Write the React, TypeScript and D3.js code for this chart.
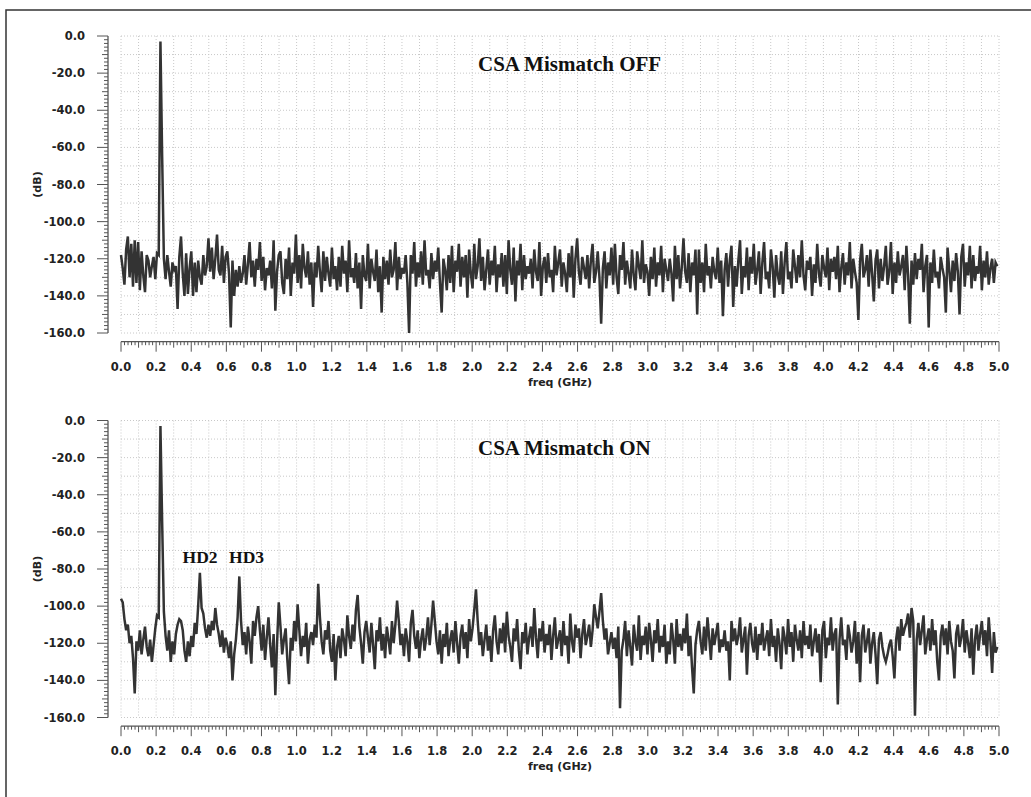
import React from "react";
import * as d3 from "d3";

// FFT bin spacing (GHz): 512 bins over 0 – 5 GHz
const FREQ_STEP_GHZ = 5 / 512;

// Spectrum with CSA mismatch OFF (dB), one value per FFT bin
const offSpectrum: number[] = [
  -118, -125, -134, -115, -108, -130, -112, -135, -110, -133, -111, -137, -116, -129, -138, -118,
  -121, -130, -124, -119, -131, -117, -118, -3, -65, -120, -131, -118, -127, -135, -122, -126,
  -124, -147, -119, -108, -128, -140, -117, -139, -125, -116, -140, -122, -138, -121, -130, -134,
  -118, -129, -124, -109, -127, -114, -131, -120, -107, -126, -129, -113, -133, -119, -116, -128,
  -157, -121, -140, -126, -135, -124, -133, -128, -118, -134, -123, -111, -130, -121, -135, -120,
  -126, -111, -132, -119, -137, -125, -129, -121, -136, -110, -148, -127, -118, -116, -133, -139,
  -120, -131, -114, -140, -122, -128, -107, -133, -118, -136, -112, -125, -130, -116, -134, -122,
  -146, -122, -130, -113, -127, -138, -116, -132, -119, -128, -135, -114, -131, -124, -137, -119,
  -135, -113, -128, -121, -138, -110, -130, -125, -133, -117, -136, -122, -147, -118, -129, -132,
  -112, -136, -120, -127, -132, -115, -138, -124, -149, -119, -131, -121, -134, -115, -130, -126,
  -111, -137, -119, -131, -125, -128, -118, -133, -160, -118, -128, -111, -135, -122, -130, -116,
  -134, -110, -129, -126, -136, -117, -131, -121, -127, -114, -133, -149, -120, -126, -137, -118,
  -133, -113, -138, -121, -127, -112, -135, -119, -130, -118, -141, -115, -128, -136, -112, -131,
  -124, -109, -132, -119, -137, -126, -115, -134, -121, -129, -113, -138, -123, -130, -117, -135,
  -118, -139, -110, -126, -134, -114, -143, -121, -129, -112, -137, -118, -131, -124, -128, -120,
  -136, -115, -127, -132, -111, -140, -124, -119, -133, -117, -130, -126, -138, -113, -129, -122,
  -115, -135, -122, -128, -138, -117, -130, -113, -141, -120, -109, -127, -134, -119, -125, -131,
  -118, -136, -121, -112, -133, -127, -116, -130, -155, -125, -116, -136, -122, -129, -114, -134,
  -112, -130, -139, -118, -126, -111, -134, -121, -128, -136, -115, -129, -137, -116, -124, -131,
  -110, -133, -123, -127, -140, -119, -131, -114, -135, -122, -129, -113, -138, -120, -126, -132,
  -120, -128, -143, -113, -131, -118, -136, -125, -109, -127, -133, -117, -138, -122, -129, -115,
  -150, -115, -133, -122, -138, -112, -129, -124, -136, -119, -127, -131, -114, -133, -121, -151,
  -126, -117, -135, -121, -113, -146, -124, -135, -121, -110, -139, -124, -130, -114, -137, -119,
  -128, -112, -134, -126, -116, -139, -122, -111, -131, -127, -136, -115, -124, -141, -118, -129,
  -134, -116, -139, -122, -111, -131, -127, -136, -115, -124, -133, -118, -130, -110, -129, -137,
  -121, -126, -119, -140, -123, -133, -112, -128, -135, -118, -125, -130, -114, -137, -120, -127,
  -119, -131, -113, -138, -125, -117, -134, -122, -129, -111, -136, -120, -127, -133, -153, -121,
  -112, -130, -126, -118, -135, -115, -128, -143, -121, -115, -136, -120, -132, -124, -113, -134,
  -127, -111, -139, -122, -133, -116, -129, -124, -118, -137, -113, -129, -155, -121, -134, -117,
  -131, -120, -126, -112, -138, -124, -118, -157, -122, -133, -115, -130, -127, -136, -119, -125,
  -130, -149, -114, -126, -138, -121, -132, -117, -127, -150, -119, -112, -135, -122, -129, -113,
  -136, -118, -132, -124, -128, -113, -137, -121, -130, -116, -134, -125, -120, -133, -122, -124,
];

// Spectrum with CSA mismatch ON (dB), one value per FFT bin
const onSpectrum: number[] = [
  -96, -98, -107, -113, -110, -120, -116, -128, -147, -119, -124, -113, -126, -118, -111, -122,
  -127, -118, -130, -121, -112, -105, -106, -3, -55, -103, -116, -124, -113, -130, -119, -126,
  -115, -110, -107, -108, -113, -124, -130, -119, -127, -116, -122, -109, -115, -100, -82, -101,
  -104, -112, -117, -110, -116, -108, -113, -101, -110, -115, -122, -113, -125, -117, -121, -128,
  -119, -140, -126, -118, -106, -84, -108, -121, -114, -126, -111, -119, -131, -108, -116, -106,
  -100, -113, -124, -110, -129, -117, -106, -121, -133, -115, -148, -120, -98, -111, -126, -118,
  -112, -129, -142, -117, -124, -108, -119, -99, -113, -127, -116, -122, -109, -131, -118, -114,
  -121, -110, -117, -88, -106, -119, -126, -113, -118, -108, -124, -130, -115, -140, -122, -116,
  -128, -112, -118, -127, -105, -116, -123, -110, -119, -102, -94, -111, -120, -131, -114, -108,
  -117, -125, -109, -121, -134, -113, -119, -106, -124, -115, -128, -111, -118, -126, -108, -120,
  -110, -97, -108, -121, -115, -127, -112, -119, -130, -109, -102, -116, -123, -113, -128, -118,
  -112, -124, -117, -106, -121, -110, -97, -108, -119, -126, -113, -131, -115, -122, -109, -127,
  -118, -113, -125, -108, -120, -131, -116, -110, -123, -114, -128, -107, -119, -112, -102, -91,
  -108, -121, -114, -127, -118, -110, -124, -116, -130, -113, -105, -119, -126, -112, -120, -109,
  -125, -103, -116, -122, -130, -112, -119, -107, -124, -134, -114, -120, -109, -126, -117, -111,
  -122, -101, -117, -128, -112, -119, -108, -125, -115, -121, -110, -129, -116, -106, -123, -118,
  -113, -127, -108, -121, -116, -131, -104, -119, -125, -110, -117, -112, -128, -115, -107, -121,
  -116, -110, -122, -113, -99, -106, -112, -103, -93, -108, -118, -112, -126, -120, -114, -123,
  -117, -128, -111, -155, -124, -118, -108, -127, -113, -122, -132, -110, -119, -124, -105, -129,
  -116, -121, -111, -126, -109, -118, -130, -113, -120, -107, -125, -116, -122, -110, -131, -119,
  -126, -109, -118, -131, -107, -122, -115, -124, -112, -120, -104, -127, -116, -133, -147, -121,
  -113, -108, -119, -126, -111, -124, -106, -117, -129, -112, -121, -115, -109, -125, -118, -122,
  -113, -124, -119, -140, -108, -119, -112, -121, -116, -106, -125, -118, -111, -137, -116, -109,
  -120, -125, -111, -129, -115, -121, -109, -124, -118, -113, -127, -107, -122, -116, -130, -112,
  -120, -134, -111, -117, -126, -107, -122, -114, -130, -110, -118, -124, -113, -128, -108, -121,
  -116, -123, -110, -127, -119, -112, -125, -115, -141, -113, -108, -128, -117, -121, -106, -124,
  -115, -112, -153, -118, -106, -121, -118, -129, -110, -116, -125, -119, -108, -131, -114, -141,
  -116, -110, -125, -119, -112, -131, -120, -114, -126, -142, -118, -114, -122, -127, -130, -126,
  -121, -118, -127, -139, -118, -111, -124, -107, -116, -112, -109, -104, -117, -101, -108, -159,
  -118, -109, -121, -113, -105, -126, -118, -112, -124, -107, -121, -113, -130, -140, -116, -110,
  -121, -112, -126, -108, -119, -124, -139, -115, -110, -122, -117, -107, -125, -113, -120, -128,
  -112, -137, -118, -110, -124, -115, -108, -121, -113, -127, -106, -119, -136, -114, -125, -122,
];

const yTickValues = [0, -20, -40, -60, -80, -100, -120, -140, -160];
const yTickLabels = ["0.0", "-20.0", "-40.0", "-60.0", "-80.0", "-100.0", "-120.0", "-140.0", "-160.0"];
const xTickValues = [0, 0.2, 0.4, 0.6, 0.8, 1.0, 1.2, 1.4, 1.6, 1.8, 2.0, 2.2, 2.4, 2.6, 2.8, 3.0, 3.2, 3.4, 3.6, 3.8, 4.0, 4.2, 4.4, 4.6, 4.8, 5.0];
const xTickLabels = ["0.0", "0.2", "0.4", "0.6", "0.8", "1.0", "1.2", "1.4", "1.6", "1.8", "2.0", "2.2", "2.4", "2.6", "2.8", "3.0", "3.2", "3.4", "3.6", "3.8", "4.0", "4.2", "4.4", "4.6", "4.8", "5.0"];

const panelTitles = ["CSA Mismatch OFF", "CSA Mismatch ON"];
const harmonicLabels = ["HD2", "HD3"];
// label anchor positions along the frequency axis (GHz)
const harmonicLabelFreqs = [0.45, 0.715];

const TICK_FONT = "'DejaVu Sans', Verdana, sans-serif";
const TITLE_FONT = "'Liberation Serif', 'Times New Roman', serif";

type PanelProps = {
  top: number;
  data: number[];
  title: string;
  annotations?: { label: string; freq: number }[];
};

function Panel({ top, data, title, annotations }: PanelProps) {
  const x = d3.scaleLinear().domain([0, 5]).range([121, 999]);
  const y = d3.scaleLinear().domain([-160, 0]).range([top + 297, top]);
  const axisY = top + 305.7;
  const axisX = 108;

  const line = d3
    .line<number>()
    .x((_, i) => x(i * FREQ_STEP_GHZ))
    .y((d) => y(d));

  const vGrid = d3.range(0, 51).map((k) => k / 10);
  const hGrid = d3.range(0, 17).map((k) => -10 * k);
  const yMinor = d3.range(0, 81);
  const xMinor = d3.range(0, 251);

  return (
    <g>
      {/* grid */}
      <g stroke="#c8c8c8" strokeWidth={1} strokeDasharray="1,2">
        {vGrid.map((v, i) => (
          <line key={"v" + i} x1={x(v)} x2={x(v)} y1={y(0)} y2={y(-160)} />
        ))}
        {hGrid.map((v, i) => (
          <line key={"h" + i} x1={x(0)} x2={x(5)} y1={y(v)} y2={y(v)} />
        ))}
      </g>

      {/* y axis */}
      <g stroke="#555" strokeWidth={1.3}>
        <line x1={axisX} x2={axisX} y1={y(0)} y2={y(-160)} />
        {yMinor.map((k) => {
          const len = k % 10 === 0 ? 11 : k % 5 === 0 ? 6 : 4;
          const yy = y(-2 * k);
          return <line key={"ym" + k} x1={axisX - len} x2={axisX} y1={yy} y2={yy} strokeWidth={1} />;
        })}
      </g>
      <g fontFamily={TICK_FONT} fontWeight="bold" fontSize={11.5} fill="#222" textAnchor="end">
        {yTickValues.map((v, i) => (
          <text key={"yl" + i} x={85} y={y(v)} dy="0.35em">
            {yTickLabels[i]}
          </text>
        ))}
      </g>
      <text
        transform={`translate(41, ${(y(0) + y(-160)) / 2}) rotate(-90)`}
        textAnchor="middle"
        fontFamily={TICK_FONT}
        fontWeight="bold"
        fontSize={11}
        fill="#222"
      >
        (dB)
      </text>

      {/* x axis */}
      <g stroke="#555" strokeWidth={1.3}>
        <line x1={x(0)} x2={x(5)} y1={axisY} y2={axisY} />
        {xMinor.map((k) => {
          const len = k % 10 === 0 ? 10 : k % 5 === 0 ? 6 : 3.5;
          const xx = x(k * 0.02);
          return <line key={"xm" + k} x1={xx} x2={xx} y1={axisY} y2={axisY + len} strokeWidth={1} />;
        })}
      </g>
      <g fontFamily={TICK_FONT} fontWeight="bold" fontSize={11.5} fill="#222" textAnchor="middle">
        {xTickValues.map((v, i) => (
          <text key={"xl" + i} x={x(v)} y={axisY + 29}>
            {xTickLabels[i]}
          </text>
        ))}
      </g>
      <text
        x={(x(0) + x(5)) / 2}
        y={axisY + 44}
        textAnchor="middle"
        fontFamily={TICK_FONT}
        fontWeight="bold"
        fontSize={11}
        fill="#222"
      >
        freq (GHz)
      </text>

      {/* spectrum */}
      <path d={line(data) || ""} fill="none" stroke="#333" strokeWidth={2.5} strokeLinejoin="miter" />

      {/* title */}
      <text x={478} y={top + 34.5} fontFamily={TITLE_FONT} fontWeight="bold" fontSize={21} fill="#111">
        {title}
      </text>

      {annotations &&
        annotations.map((a, i) => (
          <text
            key={"a" + i}
            x={x(a.freq)}
            y={top + 142.5}
            textAnchor="middle"
            fontFamily={TITLE_FONT}
            fontWeight="bold"
            fontSize={17.5}
            fill="#111"
          >
            {a.label}
          </text>
        ))}
    </g>
  );
}

export default function App() {
  const annotations = harmonicLabels.map((label, i) => ({ label, freq: harmonicLabelFreqs[i] }));
  return (
    <svg
      width={1031}
      height={797}
      style={{ position: "absolute", left: 0, top: 0, background: "#fff" }}
    >
      <rect x={0} y={0} width={1031} height={797} fill="#fff" />
      <path d="M6,797 L6,10 L1031,10" fill="none" stroke="#333" strokeWidth={1.5} />
      <Panel top={36} data={offSpectrum} title={panelTitles[0]} />
      <Panel top={420.5} data={onSpectrum} title={panelTitles[1]} annotations={annotations} />
    </svg>
  );
}
